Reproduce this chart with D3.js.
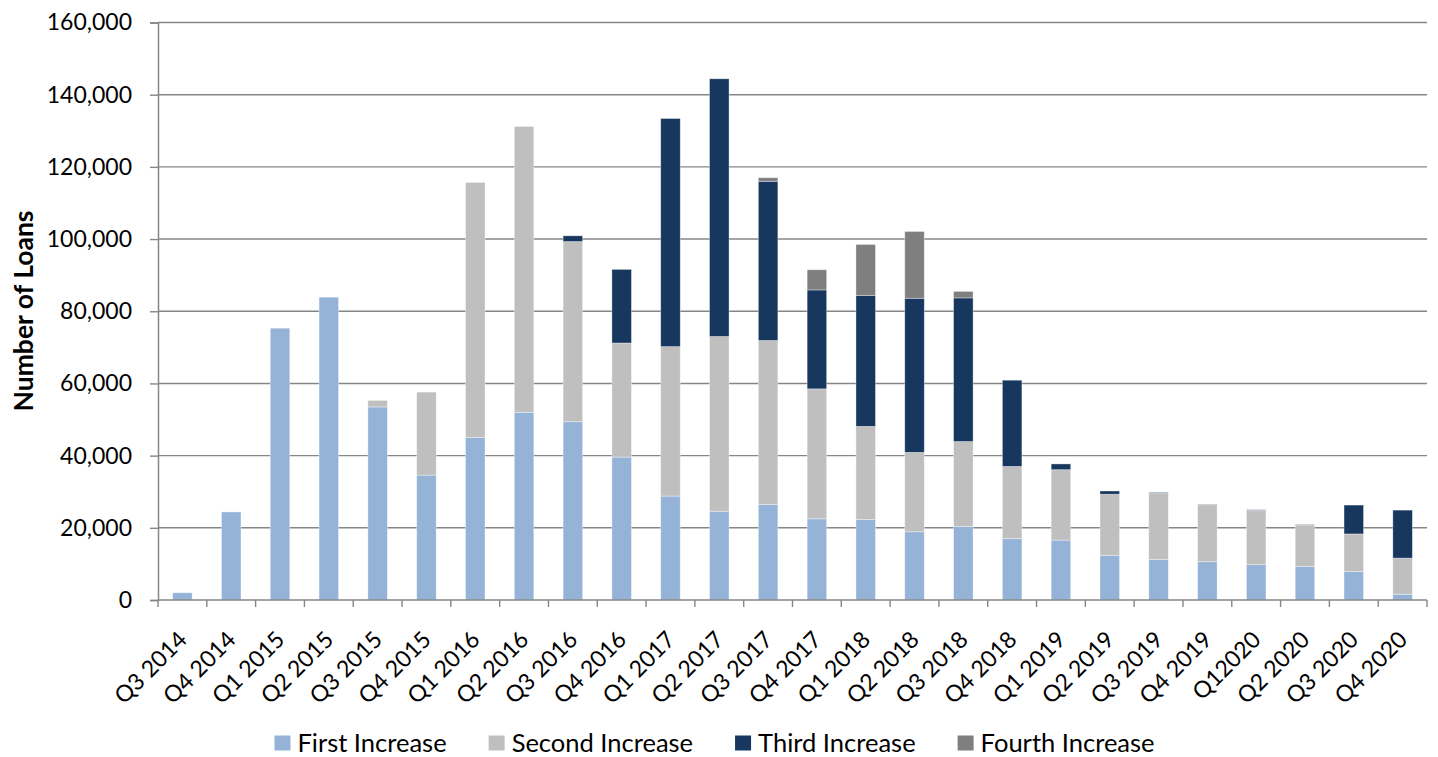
<!DOCTYPE html>
<html>
<head>
<meta charset="utf-8">
<script src="https://cdn.jsdelivr.net/npm/d3@7"></script>
<style>
  html, body { margin: 0; padding: 0; background: #fff; }
  svg { display: block; }
  text { font-family: Lato, "Open Sans", sans-serif; fill: #000; }
</style>
</head>
<body>
<svg id="chart" width="1438" height="757"></svg>
<script>
// Quarterly loan counts by increase step
const quarters = ["Q3 2014","Q4 2014","Q1 2015","Q2 2015","Q3 2015","Q4 2015","Q1 2016","Q2 2016",
  "Q3 2016","Q4 2016","Q1 2017","Q2 2017","Q3 2017","Q4 2017","Q1 2018","Q2 2018","Q3 2018",
  "Q4 2018","Q1 2019","Q2 2019","Q3 2019","Q4 2019","Q12020","Q2 2020","Q3 2020","Q4 2020"];

const firstIncrease  = [2000,24400,75300,83900,53500,34600,45000,52000,49400,39600,28800,24600,26500,
  22500,22300,18900,20400,17000,16600,12400,11200,10600,9800,9300,7900,1600];
const secondIncrease = [0,0,0,0,1800,23000,70700,79200,49900,31600,41400,48400,45400,
  36000,25800,22000,23500,20000,19500,16900,18400,15800,15100,11500,10400,10000];
const thirdIncrease  = [0,0,0,0,0,0,0,0,1600,20400,63200,71400,44100,
  27400,36300,42700,39800,23900,1600,900,200,100,100,100,8000,13300];
const fourthIncrease = [0,0,0,0,0,0,0,0,0,0,0,0,1000,
  5600,14100,18500,1800,0,0,0,0,0,0,0,0,0];

const seriesNames = ["First Increase","Second Increase","Third Increase","Fourth Increase"];
const seriesColors = ["#95b3d7","#bfbfbf","#17375e","#7f7f7f"];
const yTicks = [0,20000,40000,60000,80000,100000,120000,140000,160000];

const rows = quarters.map((q, i) => ({
  quarter: q,
  "First Increase": firstIncrease[i],
  "Second Increase": secondIncrease[i],
  "Third Increase": thirdIncrease[i],
  "Fourth Increase": fourthIncrease[i]
}));

const svg = d3.select("#chart");
const plot = { left: 158, right: 1427, top: 22.5, bottom: 600 };

const x = d3.scaleBand().domain(quarters).range([plot.left, plot.right]).paddingInner(0.6).paddingOuter(0.3);
const xEdge = d3.scaleBand().domain(quarters).range([plot.left, plot.right]);
const y = d3.scaleLinear().domain([0, 160000]).range([plot.bottom, plot.top]);
const color = d3.scaleOrdinal().domain(seriesNames).range(seriesColors);

const axisColor = "#868686";

// horizontal gridlines
svg.append("g").selectAll("line").data(yTicks.filter(d => d > 0)).join("line")
  .attr("x1", plot.left).attr("x2", plot.right)
  .attr("y1", d => y(d)).attr("y2", d => y(d))
  .attr("stroke", axisColor).attr("stroke-width", 1.4);

// stacked bars
const stacked = d3.stack().keys(seriesNames)(rows);
svg.append("g").selectAll("g").data(stacked).join("g")
  .attr("fill", d => color(d.key))
  .selectAll("rect").data(d => d.filter(s => s[1] - s[0] > 0)).join("rect")
  .attr("x", d => x(d.data.quarter))
  .attr("width", x.bandwidth())
  .attr("y", d => y(d[1]))
  .attr("height", d => y(d[0]) - y(d[1]))
  .attr("stroke", "#ffffff").attr("stroke-opacity", 0.45).attr("stroke-width", 0.8);

// y axis
const yAxis = d3.axisLeft(y).tickValues(yTicks).tickSize(8).tickPadding(18)
  .tickFormat(d3.format(","));
const gy = svg.append("g").attr("transform", `translate(${plot.left},0)`).call(yAxis);
gy.select(".domain").attr("stroke", axisColor).attr("stroke-width", 1.5);
gy.selectAll(".tick line").attr("stroke", axisColor).attr("stroke-width", 1.4);
gy.selectAll(".tick text").attr("font-size", 23).attr("fill", "#000");

// x axis: tick marks at category boundaries
const boundaries = quarters.map(q => xEdge(q)).concat([plot.right]);
svg.append("line")
  .attr("x1", plot.left).attr("x2", plot.right)
  .attr("y1", plot.bottom).attr("y2", plot.bottom)
  .attr("stroke", axisColor).attr("stroke-width", 1.5);
svg.append("g").selectAll("line").data(boundaries).join("line")
  .attr("x1", d => d).attr("x2", d => d)
  .attr("y1", plot.bottom).attr("y2", plot.bottom + 7)
  .attr("stroke", axisColor).attr("stroke-width", 1.4);

// rotated category labels
svg.append("g").selectAll("text").data(quarters).join("text")
  .attr("transform", q => `translate(${x(q) + x.bandwidth() / 2 + 6},${plot.bottom + 41}) rotate(-45)`)
  .attr("text-anchor", "end")
  .attr("font-size", 23)
  .text(q => q);

// y axis title
svg.append("text")
  .attr("transform", `translate(33,311) rotate(-90)`)
  .attr("text-anchor", "middle")
  .attr("font-size", 26.5)
  .attr("font-weight", "bold")
  .text("Number of Loans");

// legend
const legendFont = 25.5;
const legend = svg.append("g").attr("transform", "translate(0,743)");
const items = legend.selectAll("g").data(seriesNames).join("g");
items.append("rect").attr("width", 16).attr("height", 15).attr("y", -7.5)
  .attr("fill", d => color(d));
items.append("text").attr("x", 23).attr("dy", "0.35em").attr("font-size", legendFont).text(d => d);
const widths = [];
items.select("text").each(function () { widths.push(this.getComputedTextLength() + 23); });
const gap = 42;
const total = d3.sum(widths) + gap * (widths.length - 1);
let cursor = 714.5 - total / 2;
items.attr("transform", (d, i) => {
  const pos = cursor;
  cursor += widths[i] + gap;
  return `translate(${pos},0)`;
});
</script>
</body>
</html>
